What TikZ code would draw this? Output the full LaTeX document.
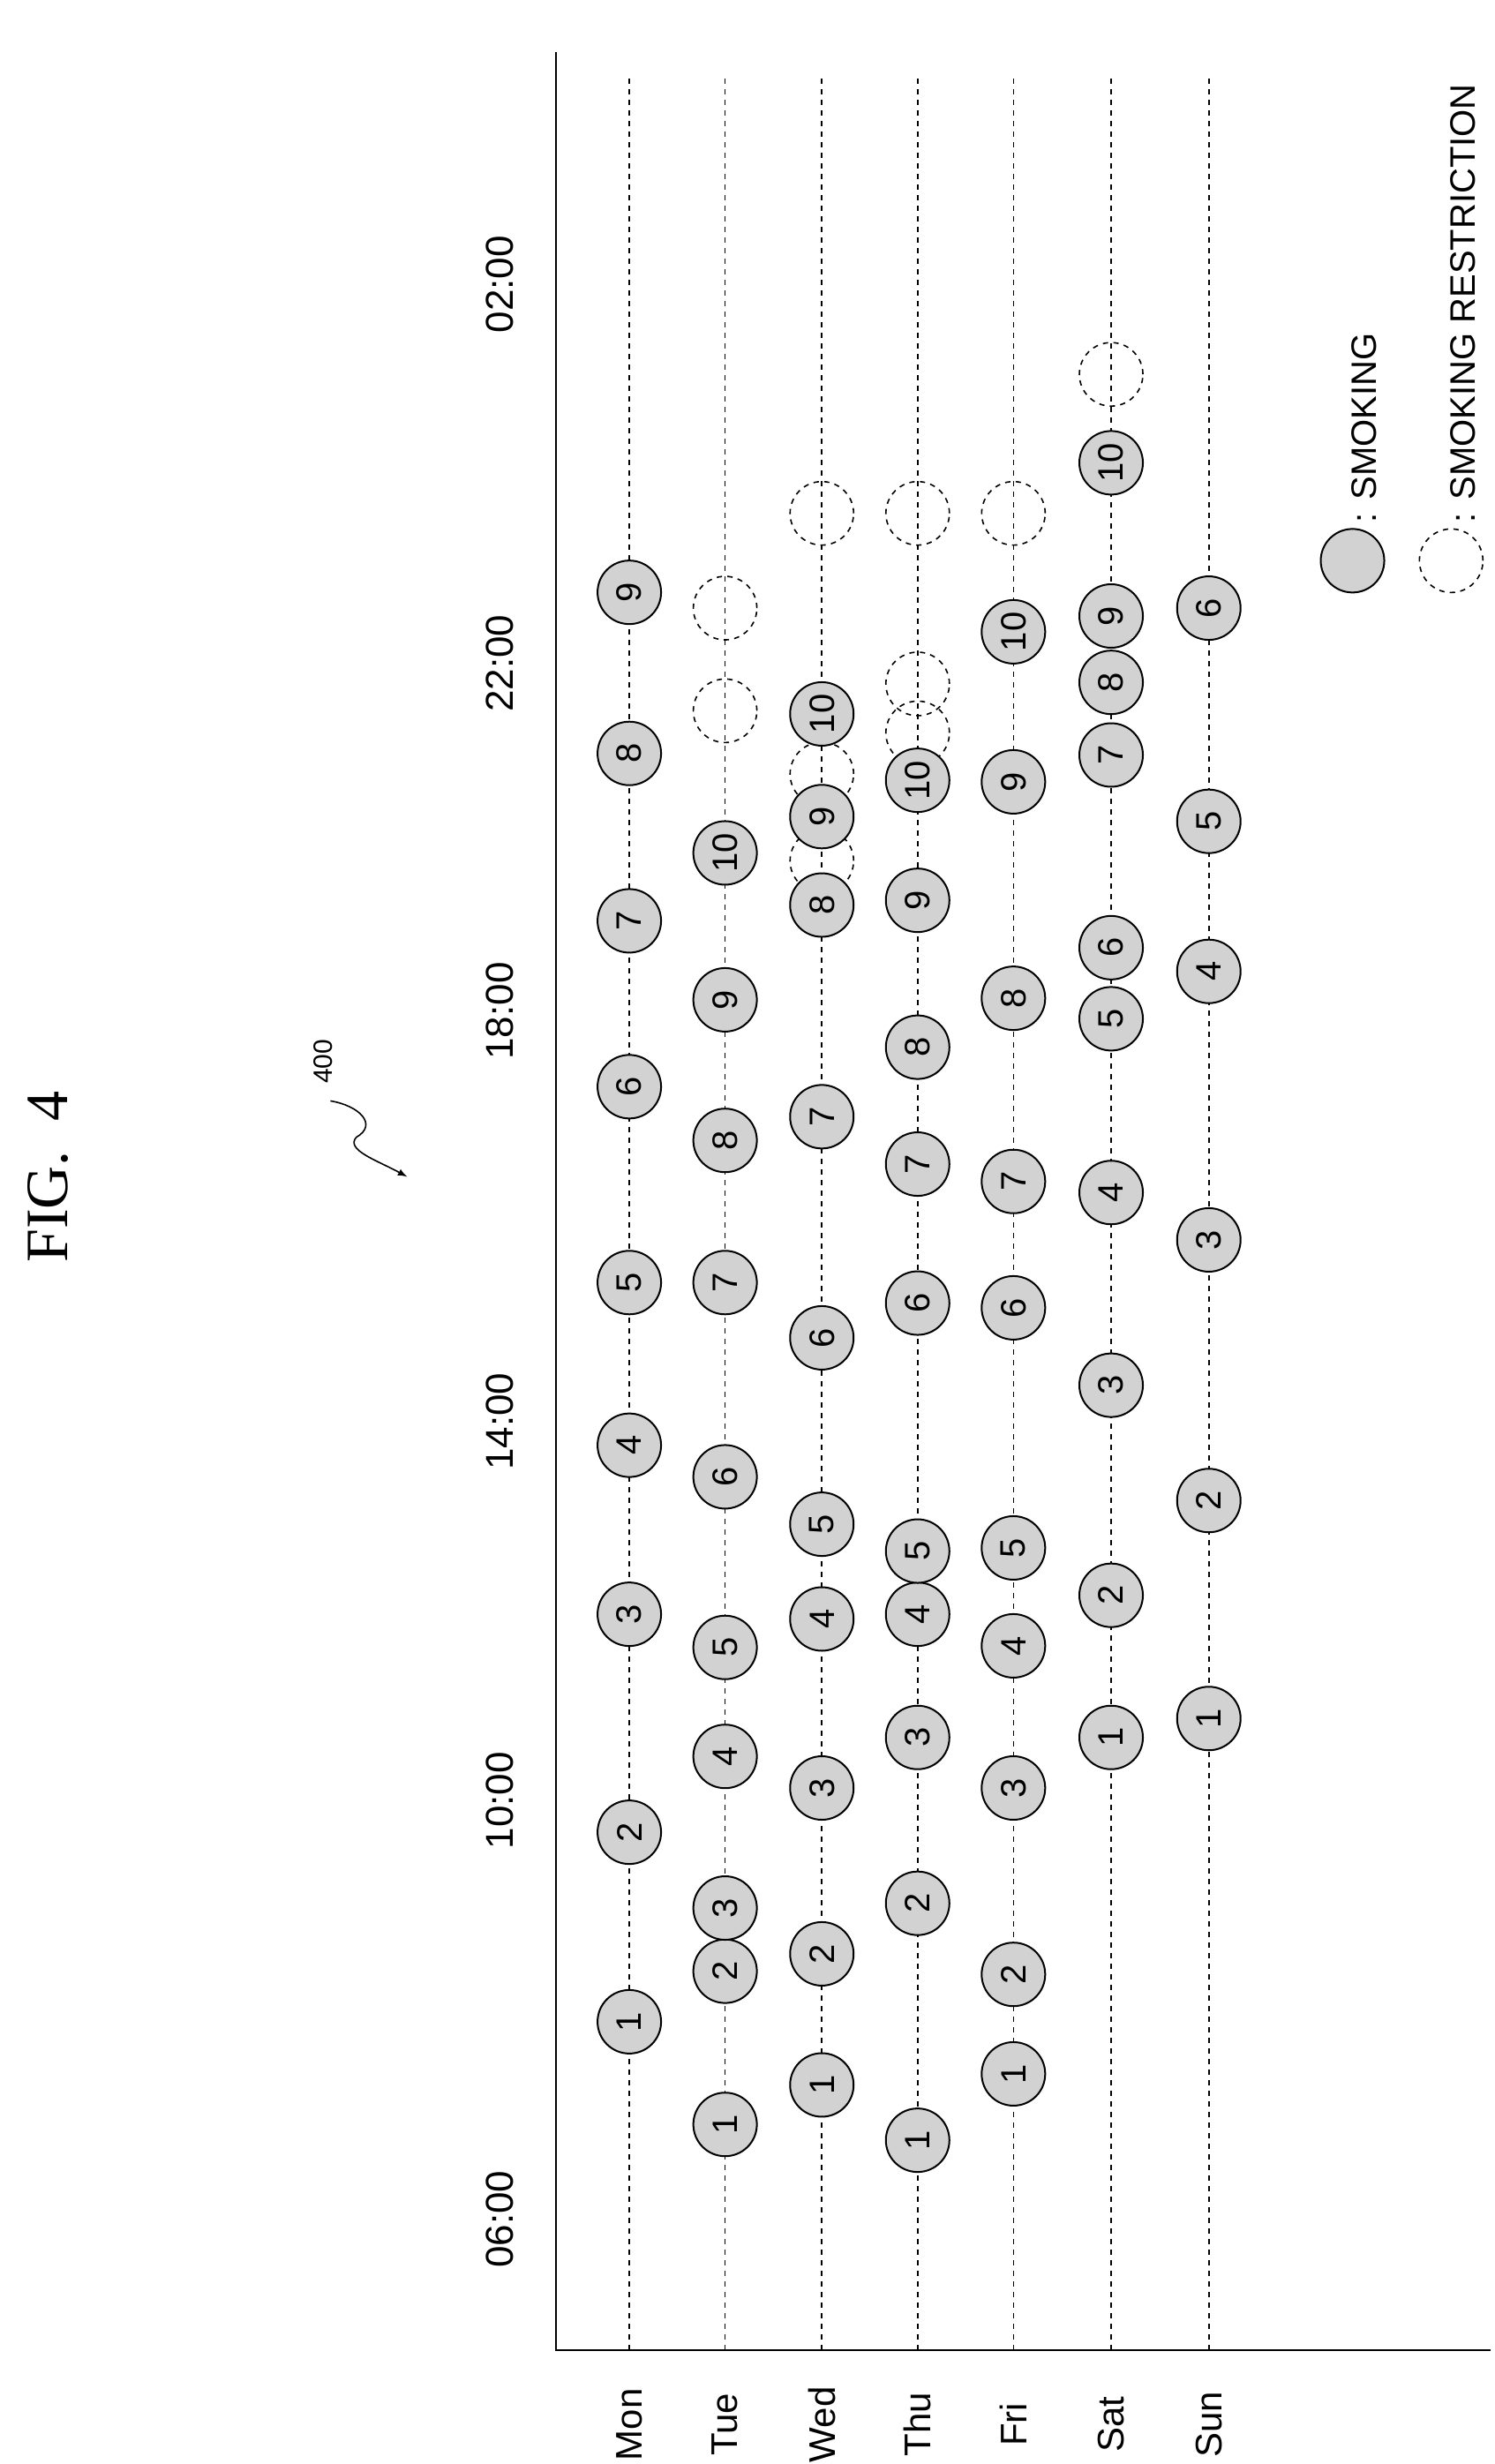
\documentclass[tikz,border=0pt]{standalone}
\usepackage{fontspec}
\setmainfont{Liberation Sans}
\newfontfamily\figfont{Liberation Serif}
\usepackage{tikz}
\usetikzlibrary{positioning,arrows}

\begin{document}
\begin{tikzpicture}[
x=0.5427pt, y=-0.8949pt,
smoke/.style={
  draw,
  circle,
  fill=gray!35,
  minimum size=36pt,
  inner sep=0pt,
  line width=1pt,
  rotate=90,
  font=\fontsize{20}{20}\selectfont
  },
restrict/.style={
  draw,
  circle,
  dashed,
  minimum size=36pt,
  inner sep=0pt,
  line width=0.8pt
  },
dayline/.style={
  dashed,
  line width=0.8pt
  },
daylabel/.style={
  rotate=90,
  anchor=center,
  font=\fontsize{21}{21}\selectfont
  },
>=latex
]
\useasboundingbox (0,0) rectangle (1560,1560);

% title and reference sign
\node[rotate=90, font=\figfont\fontsize{34}{34}\selectfont] (title) at (50,745) {FIG.~ 4};
\node[rotate=90, font=\fontsize{15}{15}\selectfont] (ref) at (337,672) {400};
\coordinate (sq1) at (345,697);
\coordinate (sq2) at (425,745);
\draw[->, line width=0.8pt] (sq1) .. controls (375,700) and (395,712) .. (372,720)
  .. controls (360,728) and (395,735) .. (sq2);

% axes
\coordinate (origin) at (580,1488);
\coordinate (ytop) at (580,33);
\coordinate (xend) at (1556,1488);
\draw[line width=1pt] (ytop) -- (origin) -- (xend);

% time labels
\foreach \t/\v in {06:00/1405,10:00/1140,14:00/900,18:00/640,22:00/420,02:00/180}
  \node[daylabel, font=\fontsize{22}{22}\selectfont] (t\v) at (522,\v) {\t};

% day lines and labels
\foreach \d/\u in {Mon/657,Tue/757,Wed/858,Thu/958,Fri/1058,Sat/1160,Sun/1262}
{
  \coordinate (\d-top) at (\u,50);
  \coordinate (\d-bot) at (\u,1488);
  \draw[dayline] (\d-top) -- (\d-bot);
  \node[daylabel] (\d-lab) at (\u,1535) {\d};
}

% smoking restriction
\foreach \d/\u/\list in {Tue/757/{450,385},Wed/858/{545,490,325},Thu/958/{464,433,325},Fri/1058/{325},Sat/1160/{237}}
  \foreach \v [count=\i] in \list
    \node[restrict] (\d-r\i) at (\u,\v) {};

% smoking
\foreach \d/\u/\list in {
  Mon/657/{1280,1160,1022,915,812,688,583,477,375},
  Tue/757/{1345,1248,1208,1112,1043,935,812,722,633,540},
  Wed/858/{1320,1237,1132,1025,965,847,707,573,517,452},
  Thu/958/{1355,1205,1100,1022,982,825,737,663,570,494},
  Fri/1058/{1313,1250,1132,1042,980,828,748,632,495,400},
  Sat/1160/{1100,1010,877,755,645,600,478,432,390,293},
  Sun/1262/{1088,950,785,615,520,385}}
  \foreach \v [count=\i] in \list
    \node[smoke] (\d-s\i) at (\u,\v) {\i};

% legend
\node[smoke] (leg-s) at (1412,355) {};
\node[restrict] (leg-r) at (1515,355) {};
\node[rotate=90, anchor=west, font=\fontsize{20}{20}\selectfont] (leg-st) at (1424,335) {: SMOKING};
\node[rotate=90, anchor=west, font=\fontsize{20}{20}\selectfont] (leg-rt) at (1527,335) {: SMOKING RESTRICTION};
\end{tikzpicture}
\end{document}
